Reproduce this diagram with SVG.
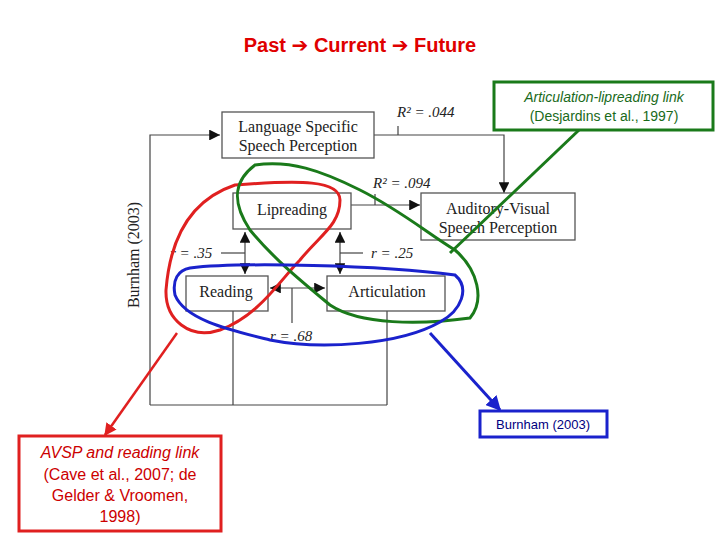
<svg xmlns="http://www.w3.org/2000/svg" width="720" height="540" viewBox="0 0 720 540">
<style>
.box{fill:#fff;stroke:#555;stroke-width:1.3}
.n{font-family:"Liberation Serif",serif;font-size:16px;fill:#222}
.ln{stroke:#444;stroke-width:1.2;fill:none}
.lab{font-family:"Liberation Serif",serif;font-size:15px;font-style:italic;fill:#222}
</style>
<defs>
<marker id="a" viewBox="0 0 10 10" refX="10" refY="5" markerWidth="9" markerHeight="9" orient="auto-start-reverse"><path d="M0,0L10,5L0,10z" fill="#111"/></marker>
<marker id="b" viewBox="0 0 10 10" refX="9" refY="5" markerWidth="5" markerHeight="5" orient="auto"><path d="M0,0L10,5L0,10z" fill="#1a22cc"/></marker>
<marker id="r" viewBox="0 0 10 10" refX="9" refY="5" markerWidth="5" markerHeight="5" orient="auto"><path d="M0,0L10,5L0,10z" fill="#e02020"/></marker>
</defs>
<text x="360" y="52" text-anchor="middle" font-family="Liberation Sans,DejaVu Sans,sans-serif" font-size="20" font-weight="bold" fill="#e00000">Past ➔ Current ➔ Future</text>
<g id="connectors">
<path class="ln" d="M233,311V405M387,311V405M150,405H387M150,405V135H220" marker-end="url(#a)"/>
<path class="ln" d="M374,135H504V193" marker-end="url(#a)"/>
<path class="ln" d="M398,135V126"/>
<path class="ln" d="M351,205H420" marker-end="url(#a)"/>
<path class="ln" d="M375,205V194"/>
<path class="ln" d="M245,232V274" marker-start="url(#a)" marker-end="url(#a)"/>
<path class="ln" d="M221,253H245"/>
<path class="ln" d="M340,232V274" marker-start="url(#a)" marker-end="url(#a)"/>
<path class="ln" d="M340,253H363"/>
<path class="ln" d="M270,288H325" marker-start="url(#a)" marker-end="url(#a)"/>
<path class="ln" d="M292,288V323"/>
</g>
<g id="labels">
<text class="lab" x="397" y="117">R² = .044</text>
<text class="lab" x="373" y="188">R² = .094</text>
<text class="lab" x="170" y="258">r = .35</text>
<text class="lab" x="371" y="258">r = .25</text>
<text class="lab" x="270" y="341">r = .68</text>
<text class="n" transform="translate(139,255) rotate(-90)" text-anchor="middle" font-size="14">Burnham (2003)</text>
</g>
<g id="lang"><rect class="box" x="222" y="112" width="152" height="46"/><text class="n" x="298" y="132" text-anchor="middle">Language Specific</text><text class="n" x="298" y="151" text-anchor="middle">Speech Perception</text></g>
<g id="lip"><rect class="box" x="233" y="193" width="118" height="36"/><text class="n" x="292" y="215" text-anchor="middle">Lipreading</text></g>
<g id="av"><rect class="box" x="421" y="193" width="154" height="47"/><text class="n" x="498" y="214" text-anchor="middle">Auditory-Visual</text><text class="n" x="498" y="233" text-anchor="middle">Speech Perception</text></g>
<g id="read"><rect class="box" x="186" y="276" width="82" height="35"/><text class="n" x="226" y="297" text-anchor="middle">Reading</text></g>
<g id="art"><rect class="box" x="327" y="276" width="118" height="35"/><text class="n" x="387" y="297" text-anchor="middle">Articulation</text></g>
<g id="loops" fill="none" stroke-width="3">
<path stroke="#e02020" d="M340,200C340,180 300,180 235,185C190,200 170,240 166,290C165,320 190,340 220,330C260,315 280,280 300,260C320,235 340,225 340,200Z"/>
<path stroke="#1a7a1a" d="M255,165C235,180 230,200 250,230C275,260 300,280 330,305C360,325 420,325 470,318C485,300 478,270 455,250C430,235 400,210 360,190C320,170 290,160 255,165Z"/>
<path stroke="#1a22cc" d="M190,268C240,262 380,265 455,275C470,288 462,310 440,322C400,345 320,350 270,340C230,330 185,320 175,295C172,280 178,270 190,268Z"/>
</g>
<g id="callouts">
<line x1="579" y1="130" x2="450" y2="253" stroke="#1a7a1a" stroke-width="3"/>
<line x1="430" y1="333" x2="500" y2="410" stroke="#1a22cc" stroke-width="3" marker-end="url(#b)"/>
<line x1="177" y1="333" x2="105" y2="435" stroke="#e02020" stroke-width="2.5" marker-end="url(#r)"/>
<g id="c1"><rect x="494" y="82" width="219" height="48" fill="#fff" stroke="#1a7a1a" stroke-width="3"/><text x="604" y="102" text-anchor="middle" font-family="Liberation Sans,sans-serif" font-size="14" font-style="italic" fill="#1a6a1a">Articulation-lipreading link</text><text x="604" y="121" text-anchor="middle" font-family="Liberation Sans,sans-serif" font-size="14" fill="#1a6a1a">(Desjardins et al., 1997)</text></g>
<g id="c2"><rect x="480" y="411" width="127" height="26" fill="#fff" stroke="#1a22cc" stroke-width="3"/><text x="543" y="429" text-anchor="middle" font-family="Liberation Sans,sans-serif" font-size="13" fill="#000080">Burnham (2003)</text></g>
<g id="c3"><rect x="19" y="436" width="202" height="95" fill="#fff" stroke="#e02020" stroke-width="3"/>
<g font-family="Liberation Sans,sans-serif" font-size="16" fill="#cc0000" text-anchor="middle"><text x="120" y="458" font-style="italic">AVSP and reading link</text><text x="120" y="480">(Cave et al., 2007; de</text><text x="120" y="501">Gelder &amp; Vroomen,</text><text x="120" y="522">1998)</text></g></g>
</g>
</svg>
